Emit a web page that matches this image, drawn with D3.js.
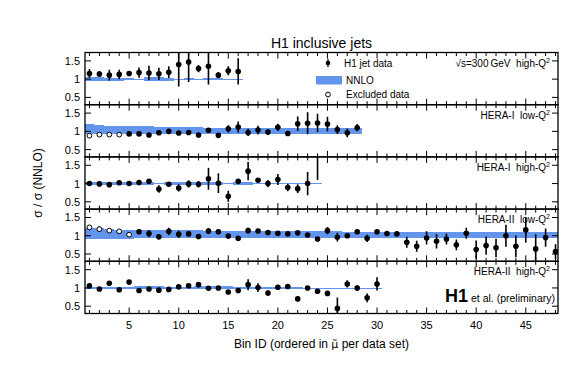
<!DOCTYPE html>
<html><head><meta charset="utf-8">
<script src="https://cdn.jsdelivr.net/npm/d3@7"></script>
<style>body{margin:0;background:#fff}svg{display:block;font-family:"Liberation Sans",Arial,sans-serif}text{white-space:pre}</style>
</head><body>
<svg id="c" width="567" height="366"></svg>
<script>
// ---- data ----
const panelLabels = ["\u221As=300\u2009GeV  high-Q", "HERA-I  low-Q", "HERA-I  high-Q", "HERA-II  low-Q", "HERA-II  high-Q"];
const p1Val = [1.155,1.14,1.11,1.13,1.155,1.18,1.17,1.145,1.19,1.40,1.47,1.29,1.35,1.11,1.23,1.21];
const p1Err = [0.12,0.08,0.15,0.13,0.07,0.14,0.2,0.17,0.16,0.6,0.55,0.1,0.5,0.08,0.12,0.36];
const p1Lo = [0.96,0.96,0.96,0.96,0.97,0.985,0.95,0.95,0.96,0.985,0.97,0.995,0.975,0.975,0.98,0.99];
const p1Hi = [1.05,1.05,1.04,1.04,1.03,1.01,1.05,1.05,1.04,1.01,1.03,1.005,1.02,1.02,1.015,1.01];
const p1Excl = 0;

const p2Val = [0.88,0.91,0.91,0.91,0.93,0.93,0.90,0.96,1.0,0.955,0.97,0.9,1.03,0.89,1.07,1.12,0.97,1.035,0.98,1.11,0.94,1.21,1.22,1.23,1.2,1.05,0.96,1.1];
const p2Err = [0.03,0.03,0.03,0.03,0.04,0.04,0.04,0.05,0.04,0.04,0.04,0.04,0.06,0.05,0.1,0.15,0.1,0.12,0.07,0.1,0.07,0.2,0.3,0.25,0.2,0.12,0.12,0.1];
const p2Lo = [0.93,0.93,0.94,0.94,0.94,0.94,0.94,0.94,0.94,0.94,0.94,0.94,0.94,0.94,0.94,0.94,0.94,0.94,0.94,0.94,0.94,0.94,0.94,0.94,0.94,0.94,0.94,0.94];
const p2Hi = [1.19,1.18,1.16,1.16,1.15,1.15,1.14,1.12,1.12,1.11,1.11,1.11,1.1,1.1,1.09,1.09,1.09,1.09,1.09,1.09,1.09,1.09,1.09,1.09,1.09,1.09,1.09,1.09];
const p2Excl = 4;

const p3Val = [1.0,0.99,0.97,1.02,1.0,1.03,1.06,0.85,0.98,0.88,0.99,0.98,1.13,1.01,0.65,1.06,1.34,1.09,1.0,1.11,0.89,0.86,1.0,2.0];
const p3Err = [0.03,0.03,0.05,0.03,0.06,0.04,0.04,0.1,0.05,0.1,0.1,0.09,0.3,0.27,0.15,0.04,0.25,0.05,0.1,0.15,0.1,0.12,0.32,0.9];
const p3Lo = [0.96,0.96,0.97,0.97,0.96,0.96,0.96,0.985,0.96,0.96,0.96,0.96,0.96,0.96,0.99,0.97,0.97,0.985,0.985,0.985,0.99,0.99,0.99,0.99];
const p3Hi = [1.04,1.04,1.03,1.03,1.04,1.04,1.04,1.015,1.04,1.04,1.04,1.04,1.04,1.04,1.01,1.03,1.03,1.015,1.015,1.015,1.01,1.01,1.01,1.01];
const p3Excl = 0;

const p4Val = [1.23,1.18,1.14,1.12,1.03,1.11,1.06,0.97,1.12,1.04,1.05,0.98,1.13,1.11,0.99,0.93,1.14,1.13,1.09,1.07,1.05,1.08,1.02,0.91,1.14,0.96,1.0,1.11,0.93,1.11,1.06,1.05,0.82,0.71,0.94,0.85,0.91,0.75,1.07,0.62,0.73,0.67,1.0,0.71,1.16,0.64,0.95,0.57];
const p4Err = [0.05,0.08,0.04,0.04,0.04,0.04,0.1,0.04,0.1,0.1,0.07,0.06,0.08,0.05,0.04,0.04,0.08,0.05,0.05,0.04,0.04,0.04,0.04,0.04,0.1,0.12,0.04,0.04,0.1,0.07,0.04,0.05,0.15,0.15,0.18,0.2,0.15,0.15,0.15,0.25,0.25,0.25,0.3,0.3,0.35,0.4,0.25,0.2];
const p4Lo = [0.91,0.91,0.92,0.92,0.92,0.93,0.93,0.93,0.93,0.93,0.94,0.94,0.94,0.94,0.94,0.94,0.94,0.94,0.94,0.94,0.94,0.94,0.94,0.94,0.94,0.94,0.94,0.94,0.95,0.95,0.95,0.95,0.95,0.95,0.95,0.95,0.95,0.95,0.95,0.95,0.95,0.95,0.95,0.95,0.95,0.95,0.95,0.95];
const p4Hi = [1.21,1.2,1.18,1.17,1.16,1.16,1.15,1.15,1.15,1.15,1.15,1.15,1.14,1.14,1.14,1.14,1.13,1.13,1.13,1.13,1.13,1.12,1.12,1.12,1.12,1.12,1.11,1.11,1.1,1.1,1.1,1.1,1.1,1.1,1.1,1.1,1.1,1.1,1.1,1.1,1.1,1.1,1.1,1.1,1.1,1.1,1.1,1.1];
const p4Excl = 5;

const p5Val = [1.06,0.97,1.13,0.95,1.16,0.93,0.97,0.94,0.96,1.03,1.06,1.09,0.99,1.0,0.89,0.93,1.09,1.01,0.86,1.02,1.04,0.7,1.0,0.91,0.85,0.44,1.11,1.0,0.73,1.11];
const p5Err = [0.03,0.03,0.04,0.03,0.04,0.03,0.03,0.03,0.03,0.03,0.04,0.06,0.04,0.04,0.04,0.04,0.15,0.12,0.07,0.03,0.03,0.07,0.03,0.04,0.05,0.3,0.1,0.08,0.12,0.18];
const p5Lo = [0.975,0.975,0.975,0.975,0.975,0.96,0.96,0.96,0.975,0.975,0.975,0.96,0.96,0.96,0.96,0.975,0.98,0.98,0.985,0.985,0.985,0.985,0.99,0.99,0.99,0.99,0.99,0.99,0.99,0.99];
const p5Hi = [1.025,1.025,1.025,1.025,1.025,1.04,1.04,1.04,1.025,1.025,1.025,1.04,1.04,1.04,1.04,1.025,1.02,1.02,1.015,1.015,1.015,1.015,1.01,1.01,1.01,1.01,1.01,1.01,1.01,1.01];
const p5Excl = 0;

const yTicks = [0.5, 1, 1.5];
const xTickLabels = [5,10,15,20,25,30,35,40,45];
const nBins = 48;

const panels = [
  {val:p1Val, err:p1Err, lo:p1Lo, hi:p1Hi, excl:p1Excl, label:panelLabels[0]},
  {val:p2Val, err:p2Err, lo:p2Lo, hi:p2Hi, excl:p2Excl, label:panelLabels[1]},
  {val:p3Val, err:p3Err, lo:p3Lo, hi:p3Hi, excl:p3Excl, label:panelLabels[2]},
  {val:p4Val, err:p4Err, lo:p4Lo, hi:p4Hi, excl:p4Excl, label:panelLabels[3]},
  {val:p5Val, err:p5Err, lo:p5Lo, hi:p5Hi, excl:p5Excl, label:panelLabels[4]}
];

// ---- layout ----
const svg = d3.select("#c");
const L = 85, R = 558, T = 52.5, B = 313.5;
const PH = (B - T) / 5;
const BAND = "#6495ed";
const x = d3.scaleLinear().domain([0.55, 48.25]).range([L, R]);

svg.append("text").attr("x", (L+R)/2).attr("y", 47.5).attr("text-anchor","middle")
  .attr("font-size", 14).text("H1 inclusive jets");

panels.forEach((p, k) => {
  const top = T + k*PH, bot = top + PH;
  const y = d3.scaleLinear().domain([0.3, 1.73]).range([bot, top]);
  const g = svg.append("g");
  const cid = "clip" + k;
  svg.append("clipPath").attr("id", cid).append("rect")
    .attr("x", L).attr("y", top).attr("width", R-L).attr("height", PH);
  const pg = g.append("g").attr("clip-path", `url(#${cid})`);
  pg.selectAll("rect.band").data(p.lo).join("rect").attr("class","band")
    .attr("x", (d,i) => x(i+0.5)).attr("width", (d,i) => x(i+1.5)-x(i+0.5))
    .attr("y", (d,i) => y(p.hi[i])).attr("height", (d,i) => Math.max(1.2, y(d)-y(p.hi[i])))
    .attr("fill", BAND).attr("shape-rendering","crispEdges");
  pg.selectAll("line.err").data(p.val).join("line").attr("class","err")
    .attr("x1", (d,i) => x(i+1)).attr("x2", (d,i) => x(i+1))
    .attr("y1", (d,i) => y(d + p.err[i])).attr("y2", (d,i) => y(d - p.err[i]))
    .attr("stroke", "#000").attr("stroke-width", 1.6);
  pg.selectAll("circle.pt").data(p.val).join("circle").attr("class","pt")
    .attr("cx", (d,i) => x(i+1)).attr("cy", d => y(d))
    .attr("r", (d,i) => i < p.excl ? 2.4 : 2.8)
    .attr("fill", (d,i) => i < p.excl ? "#fff" : "#000")
    .attr("stroke", "#000").attr("stroke-width", (d,i) => i < p.excl ? 1 : 0);
  g.append("rect").attr("x", L).attr("y", top).attr("width", R-L).attr("height", PH)
    .attr("fill","none").attr("stroke","#000").attr("stroke-width", 1.3);
  const xt = d3.range(1, nBins+1);
  g.selectAll("line.xtb").data(xt).join("line")
    .attr("x1", d => x(d)).attr("x2", d => x(d))
    .attr("y1", bot).attr("y2", d => bot - (d%5===0 ? 6 : 3.5))
    .attr("stroke","#000").attr("stroke-width",1);
  g.selectAll("line.xtt").data(xt).join("line")
    .attr("x1", d => x(d)).attr("x2", d => x(d))
    .attr("y1", top).attr("y2", d => top + (d%5===0 ? 6 : 3.5))
    .attr("stroke","#000").attr("stroke-width",1);
  yTicks.forEach(t => {
    g.append("line").attr("x1", L).attr("x2", L+6).attr("y1", y(t)).attr("y2", y(t)).attr("stroke","#000");
    g.append("line").attr("x1", R).attr("x2", R-6).attr("y1", y(t)).attr("y2", y(t)).attr("stroke","#000");
    g.append("text").attr("x", L-5).attr("y", y(t)+4).attr("text-anchor","end")
      .attr("font-size", 11).text(t);
  });
  const lt = g.append("text").attr("x", R-8).attr("y", top+14).attr("text-anchor","end")
    .attr("font-size", 10).attr("xml:space","preserve");
  lt.append("tspan").text(p.label);
  lt.append("tspan").attr("font-size", 7).attr("dy", -4).text("2");
});

svg.selectAll("text.xl").data(xTickLabels).join("text").attr("class","xl")
  .attr("x", d => x(d)).attr("y", B+15).attr("text-anchor","middle").attr("font-size", 11).text(d => d);

// x title, mu with combining tilde
const xtl = svg.append("text").attr("x", (L+R)/2).attr("y", 348).attr("text-anchor","middle")
  .attr("font-size", 12).attr("xml:space","preserve");
xtl.append("tspan").text("Bin ID (ordered in ");
xtl.append("tspan").attr("font-family","DejaVu Sans").attr("font-size", 11).text("\u03BC\u0303");
xtl.append("tspan").text(" per data set)");

svg.append("text").attr("transform", `translate(42,${(T+B)/2}) rotate(-90)`)
  .attr("text-anchor","middle").attr("font-size", 12).text("\u03C3 / \u03C3 (NNLO)");

// legend
const lg = svg.append("g");
lg.append("line").attr("x1",328).attr("x2",328).attr("y1",59).attr("y2",67).attr("stroke","#000").attr("stroke-width",1.3);
lg.append("circle").attr("cx",328).attr("cy",63).attr("r",2.3).attr("fill","#000");
lg.append("text").attr("x",344).attr("y",66.5).attr("font-size",10).text("H1 jet data");
lg.append("rect").attr("x",316).attr("y",76).attr("width",26).attr("height",8.5).attr("fill",BAND);
lg.append("text").attr("x",346).attr("y",83.5).attr("font-size",10).text("NNLO");
lg.append("circle").attr("cx",328).attr("cy",94.5).attr("r",2.4).attr("fill","#fff").attr("stroke","#000").attr("stroke-width",1);
lg.append("text").attr("x",346).attr("y",98).attr("font-size",10).text("Excluded data");

const h1 = svg.append("text").attr("x", 555).attr("y", 302).attr("text-anchor","end").attr("xml:space","preserve");
h1.append("tspan").attr("font-size",18).attr("font-weight","bold").text("H1");
h1.append("tspan").attr("font-size",10.5).attr("dx",3).text("et al. (preliminary)");
</script>
</body></html>
